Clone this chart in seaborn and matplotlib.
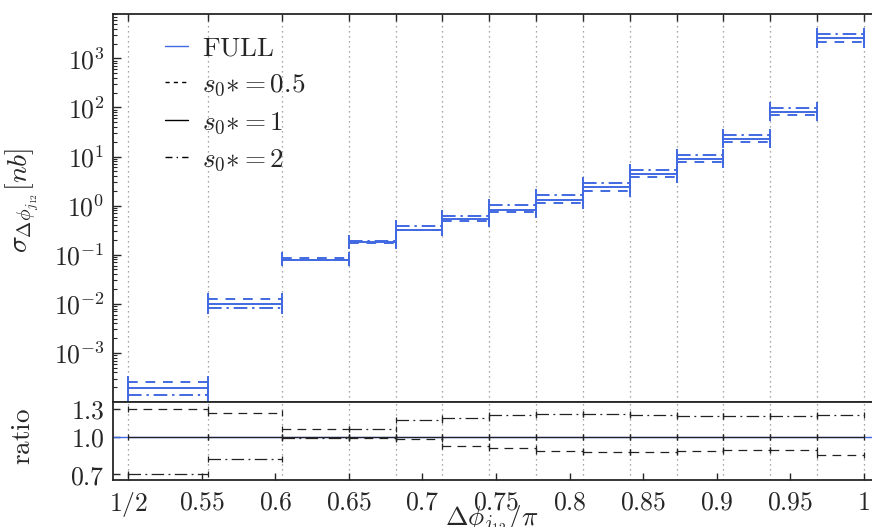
import numpy as np
import pandas as pd
import matplotlib
matplotlib.use("Agg")
import matplotlib.pyplot as plt
import seaborn as sns
from matplotlib.lines import Line2D
from matplotlib.ticker import FixedLocator, FixedFormatter, NullFormatter, LogLocator, NullLocator

# ---------------- data ----------------
bin_edges = [0.5, 0.5544, 0.6048, 0.6499, 0.6817, 0.7135, 0.7454, 0.7772,
             0.8090, 0.8408, 0.8727, 0.9045, 0.9363, 0.9682, 1.0]
xsec_s1 = [1.96e-4, 1.01e-2, 0.0795, 0.179, 0.324, 0.525, 0.826, 1.32,
           2.34, 4.39, 8.85, 22.9, 79.8, 2550.0]
ratio_s05 = [1.30, 1.248, 1.076, 0.985, 0.979, 0.915, 0.896, 0.873,
             0.868, 0.868, 0.876, 0.882, 0.882, 0.84]
ratio_s2 = [0.702, 0.807, 0.985, 1.076, 1.164, 1.197, 1.22, 1.24,
            1.24, 1.228, 1.217, 1.21, 1.217, 1.22]
xtick_vals = [0.5, 0.55, 0.6, 0.65, 0.7, 0.75, 0.8, 0.85, 0.9, 0.95, 1.0]
xtick_labels = ["1/2", "0.55", "0.6", "0.65", "0.7", "0.75", "0.8", "0.85",
                "0.9", "0.95", "1"]
ytick_exps = [-3, -2, -1, 0, 1, 2, 3]
ratio_ticks = [0.7, 1.0, 1.3]
ratio_tick_labels = ["0.7", "1.0", "1.3"]
series_names = ["s05", "s1", "s2"]
legend_labels = [r"$\mathrm{FULL}$", r"$s_0{*}=0.5$", r"$s_0{*}=1$", r"$s_0{*}=2$"]

# ---------------- style ----------------
sns.set_style("ticks")
plt.rcParams["mathtext.fontset"] = "cm"
plt.rcParams["font.family"] = ["DejaVu Serif"]
plt.rcParams["axes.linewidth"] = 1.3

BLUE = "#4169E1"
FS = 18.5
dash_top = {"s05": (5, 4), "s1": "", "s2": (7, 2.5, 1.2, 2.5)}
dash_ratio = {"s05": (7, 5), "s1": "", "s2": (10, 3.5, 1.5, 3.5)}
cap_markers = {"s05": "|", "s1": "|", "s2": "|"}

# build long tables (one segment per bin and series)
rows_top, rows_ratio = [], []
ratios = {"s05": ratio_s05, "s1": [1.0] * len(xsec_s1), "s2": ratio_s2}
for i in range(len(xsec_s1)):
    for s in series_names:
        for xe in (bin_edges[i], bin_edges[i + 1]):
            rows_top.append(dict(x=xe, y=xsec_s1[i] * ratios[s][i], series=s, bin=i))
            rows_ratio.append(dict(x=xe, y=ratios[s][i], series=s, bin=i))
df_top = pd.DataFrame(rows_top)
df_ratio = pd.DataFrame(rows_ratio)

W, H = 872, 527
fig = plt.figure(figsize=(W / 100, H / 100), dpi=100)
left, right = 113, 875
ax1 = fig.add_axes([left / W, 1 - 402 / H, (right - left) / W, (402 - 14) / H])
ax2 = fig.add_axes([left / W, 1 - 480 / H, (right - left) / W, 78 / H])

xmin = 0.5 - (128.3 - left) / 1471
xmax = 0.5 + (right - 128.3) / 1471

# ---------------- top panel ----------------
for e in bin_edges:
    ax1.axvline(e, color="#8a8a8a", ls=(0, (1, 3)), lw=0.9, zorder=0)
    ax2.axvline(e, color="#8a8a8a", ls=(0, (1, 3)), lw=0.9, zorder=0)

sns.lineplot(data=df_top, x="x", y="y", style="series", units="bin",
             estimator=None, sort=False, dashes=dash_top, markers=cap_markers,
             color=BLUE, lw=1.4, markersize=9, markeredgecolor=BLUE,
             markeredgewidth=1.4, legend=False, ax=ax1)
ax1.set_yscale("log")
ax1.set_ylim(1.0e-4, 8.0e3)
ax1.set_xlim(xmin, xmax)
ax1.yaxis.set_major_locator(FixedLocator([10.0 ** k for k in ytick_exps]))
ax1.yaxis.set_major_formatter(FixedFormatter([r"$10^{%d}$" % k for k in ytick_exps]))
ax1.yaxis.set_minor_locator(LogLocator(base=10, subs=np.arange(2, 10)))
ax1.yaxis.set_minor_formatter(NullFormatter())
ax1.xaxis.set_major_locator(FixedLocator(bin_edges))
ax1.xaxis.set_minor_locator(NullLocator())
ax1.tick_params(axis="x", which="both", top=True, bottom=False, labelbottom=False,
                direction="in", length=5, width=1)
ax1.tick_params(axis="y", which="major", left=True, direction="in", length=6,
                width=1, labelsize=FS, pad=6)
ax1.tick_params(axis="y", which="minor", direction="in", length=3, width=0.8)
ax1.set_xlabel("")
ax1.set_ylabel("")

handles = [Line2D([], [], color=BLUE, lw=1.0),
           Line2D([], [], color="black", lw=1.0, ls=(0, (3, 3))),
           Line2D([], [], color="black", lw=1.0, ls="-"),
           Line2D([], [], color="black", lw=1.0, ls=(0, (5, 3, 1, 3)))]
ax1.legend(handles, legend_labels, loc="upper left",
           bbox_to_anchor=((165 - left) / (right - left), 1 - (34 - 14) / 388),
           frameon=False, fontsize=FS + 1, handlelength=0.85, handletextpad=0.5,
           labelspacing=0.36, borderpad=0, borderaxespad=0)

# ---------------- ratio panel ----------------
ax2.axhline(1.0, color=BLUE, lw=1.0, zorder=1)
sns.lineplot(data=df_ratio, x="x", y="y", style="series", units="bin",
             estimator=None, sort=False, dashes=dash_ratio, markers=cap_markers,
             color="#222222", lw=0.9, markersize=5, markeredgecolor="#222222",
             markeredgewidth=0.9, legend=False, ax=ax2, zorder=2)
ax2.set_yscale("log")
ax2.set_ylim(0.663, 1.386)
ax2.set_xlim(xmin, xmax)
ax2.yaxis.set_major_locator(FixedLocator(ratio_ticks))
ax2.yaxis.set_major_formatter(FixedFormatter(["$%s$" % t for t in ratio_tick_labels]))
ax2.yaxis.set_minor_locator(NullLocator())
ax2.xaxis.set_major_locator(FixedLocator(xtick_vals))
ax2.xaxis.set_major_formatter(FixedFormatter(["$%s$" % t for t in xtick_labels]))
ax2.xaxis.set_minor_locator(NullLocator())
ax2.tick_params(axis="both", which="major", direction="in", length=5, width=1,
                labelsize=FS)
ax2.tick_params(axis="y", pad=6)
ax2.tick_params(axis="x", pad=7)
ax2.set_ylabel("")
ax2.set_xlabel(r"$\Delta\phi_{j_{12}}/\pi$", fontsize=FS + 1)
ax2.xaxis.set_label_coords((492 - left) / (right - left), -(504 - 480) / 78)

fig.text(22 / W, 1 - 200 / H, r"$\sigma_{\Delta\phi_{j_{12}}}[nb]$", rotation=90,
         ha="center", va="center", fontsize=FS + 1.5)
fig.text(22 / W, 1 - 437 / H, r"$\mathrm{ratio}$", rotation=90,
         ha="center", va="center", fontsize=FS + 1)

fig.savefig("out.png", dpi=100)
